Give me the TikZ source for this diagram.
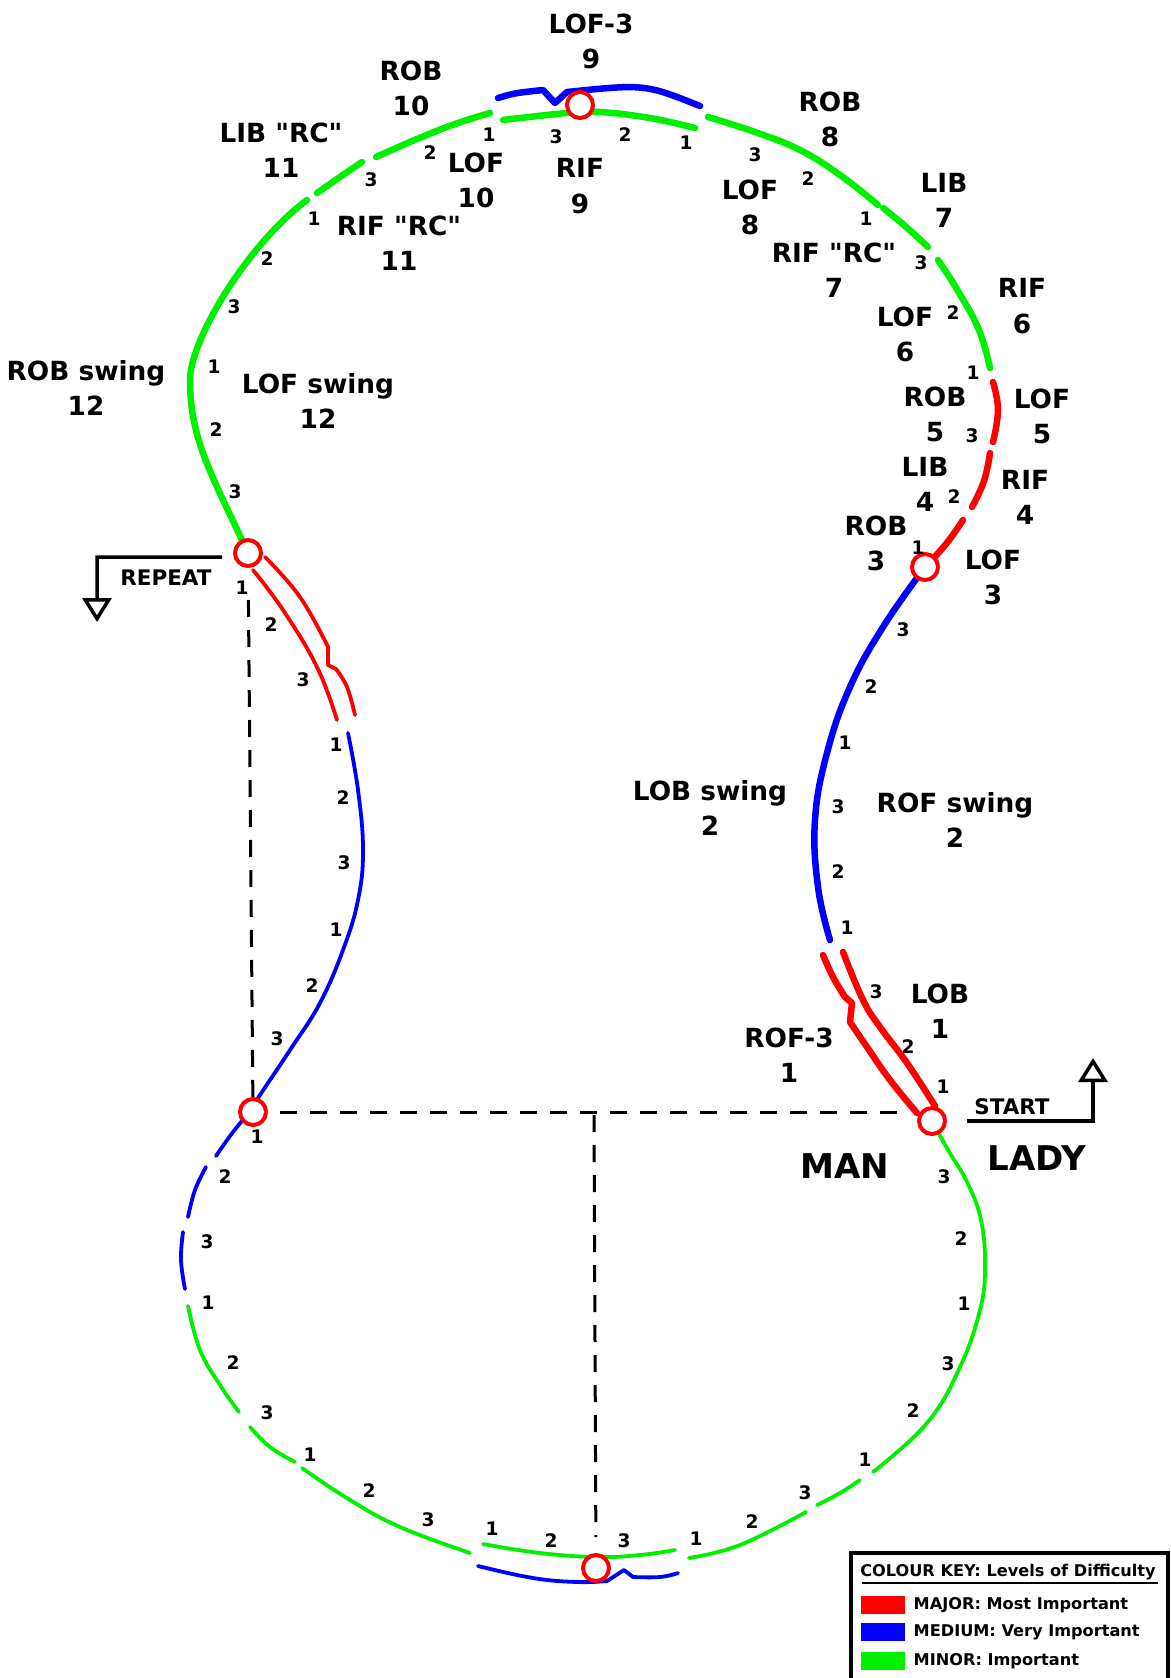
\documentclass[tikz,border=0pt]{standalone}
\usepackage{fontspec}
\setmainfont{DejaVu Sans}[Ligatures=TeXOff]
\usepackage{tikz}
\usetikzlibrary{arrows.meta}
\definecolor{major}{RGB}{255,0,0}
\definecolor{medium}{RGB}{0,0,255}
\definecolor{minor}{RGB}{0,240,0}
\tikzstyle{every plot}=[smooth, tension=0.7]
\tikzstyle{heavy}=[line width=0.65mm, line cap=round, line join=round]
\tikzstyle{fine}=[line width=0.38mm, line cap=round, line join=round]
\tikzstyle{spot}=[circle, draw=major, fill=white, line width=0.4mm, inner sep=0pt, minimum size=2.6mm]
\tikzstyle{fig}=[align=center, inner sep=0pt, font=\fontsize{7.5}{10}\selectfont\bfseries]
\tikzstyle{cnt}=[inner sep=0pt, font=\fontsize{5.3}{6}\selectfont\bfseries]
\tikzstyle{who}=[inner sep=0pt, font=\fontsize{9.7}{11}\selectfont\bfseries]
\tikzstyle{cue}=[inner sep=0pt, font=\fontsize{6.1}{7}\selectfont\bfseries]
\tikzstyle{keytext}=[inner sep=0pt, anchor=west, font=\fontsize{4.6}{5}\selectfont\bfseries]
\tikzstyle{dashline}=[line width=0.3mm, dash pattern=on 1.7mm off 1.3mm]
\tikzstyle{flow}=[line width=0.35mm, -{Triangle[open, length=2.4mm, width=2.9mm]}]

\begin{document}
\begin{tikzpicture}[x=0.1mm, y=-0.1mm]
\useasboundingbox (0,0) rectangle (1171,1678);
\clip (0,0) rectangle (1171,1678);

% first half
\draw[heavy, minor] (248,553) .. controls (212,475) and (190,440) .. (190,380) .. controls (190,340) and (247,245) .. (307,200);
\draw[heavy, minor] plot coordinates {(317,193) (340,177) (362,162)};
\draw[heavy, minor] plot coordinates {(376,157) (417,139) (455,124) (490,113)};
\draw[heavy, minor] plot coordinates {(503,120) (567,113) (600,112) (650,118) (695,128)};
\draw[heavy, medium] (498,98) .. controls (515,93) .. (543,90) -- (555,103) -- (567,92) .. controls (645,84) .. (700,106);
\draw[heavy, minor] plot coordinates {(708,117) (755,132) (800,150) (840,175) (878,205)};
\draw[heavy, minor] plot coordinates {(883,208) (905,226) (928,247)};
\draw[heavy, minor] plot coordinates {(938,260) (958,291) (979,330) (990,368)};
\draw[heavy, major] plot coordinates {(993,382) (998,410) (993,442)};
\draw[heavy, major] plot coordinates {(990,453) (984,481) (972,507)};
\draw[heavy, major] plot coordinates {(963,520) (946,544) (925,567)};
\draw[heavy, medium] plot coordinates {(925,567) (883,627) (850,687) (827,753) (815,820) (818,887) (830,940)};
\draw[heavy, major] plot coordinates {(843,952) (863,1000) (880,1027) (907,1063) (935,1106)};
\draw[heavy, major] plot coordinates {(823,955) (833,977) (845,997)} -- (852,1003) -- (850,1022) -- plot coordinates {(850,1022) (867,1047) (890,1080) (917,1113)};

% second half
\draw[fine, major] plot coordinates {(253,570) (283,610) (317,667) (337,720)};
\draw[fine, major] plot coordinates {(265,557) (300,597) (328,647)} -- (328,665) -- (336,669) -- plot coordinates {(336,669) (347,687) (355,715)};
\draw[fine, medium] plot coordinates {(348,733) (358,790) (363,850) (358,900) (343,950) (320,1003) (292,1047) (268,1083) (247,1114) (230,1136) (216,1156)};
\draw[fine, medium] plot coordinates {(206,1167) (195,1190) (188,1217)};
\draw[fine, medium] plot coordinates {(183,1232) (181,1260) (185,1289)};
\draw[fine, minor] plot coordinates {(188,1306) (200,1350) (220,1385) (239,1412)};
\draw[fine, minor] plot coordinates {(250,1427) (270,1447) (295,1462)};
\draw[fine, minor] plot coordinates {(302,1468) (350,1500) (400,1527) (470,1553)};
\draw[fine, minor] plot coordinates {(483,1544) (540,1553) (597,1557) (640,1555) (675,1550)};
\draw[fine, medium] plot coordinates {(478,1566) (533,1578) (577,1582) (607,1581)} -- (624,1570) -- (633,1577) -- plot coordinates {(633,1577) (660,1577) (678,1573)};
\draw[fine, minor] plot coordinates {(689,1558) (740,1545) (806,1512)};
\draw[fine, minor] plot coordinates {(817,1505) (840,1493) (860,1480)};
\draw[fine, minor] plot coordinates {(873,1472) (927,1423) (960,1367) (980,1310) (985,1267) (981,1220) (967,1182) (948,1150) (932,1121)};

\node[spot] (apex) at (580,105) {};
\node[spot] (switch) at (925,567) {};
\node[spot] (start) at (932,1121) {};
\node[spot] (repeat) at (248,553) {};
\node[spot] (corner) at (253,1112) {};
\node[spot] (base) at (596,1568) {};

\draw[dashline, shorten <=3.2mm] (repeat) -- (corner);
\draw[dashline, shorten <=1.2mm, shorten >=1.9mm] (corner.east) -- (corner.east -| start.west);
\coordinate (mid) at (594,1115);
\draw[dashline, shorten >=1.6mm] (mid) -- (base);

\draw[flow, shorten <=2mm] (start.east) -- (1093,1121) -- (1093,1058);
\draw[flow, shorten <=1.1mm] ([yshift=-0.4mm]repeat.west) -- (97,557) -- (97,622);
\node[cue] (go) at (1012,1107) {START};
\node[cue] (again) at (166,578) {REPEAT};
\node[who] (man) at (845,1166) {MAN};
\node[who] (lady) at (1037,1158) {LADY};

\node[fig] (f9a) at (591,41) {LOF-3\\9};
\node[fig] (f10a) at (411,88) {ROB\\10};
\node[fig] (f11a) at (281,150) {LIB "RC"\\11};
\node[fig] (f10b) at (476,180) {LOF\\10};
\node[fig] (f9b) at (580,186) {RIF\\9};
\node[fig] (f11b) at (399,243) {RIF "RC"\\11};
\node[fig] (f8a) at (830,119) {ROB\\8};
\node[fig] (f8b) at (750,207) {LOF\\8};
\node[fig] (f7a) at (944,200) {LIB\\7};
\node[fig] (f7b) at (834,270) {RIF "RC"\\7};
\node[fig] (f6a) at (1022,306) {RIF\\6};
\node[fig] (f6b) at (905,334) {LOF\\6};
\node[fig] (f5a) at (935,414) {ROB\\5};
\node[fig] (f5b) at (1042,416) {LOF\\5};
\node[fig] (f4a) at (925,484) {LIB\\4};
\node[fig] (f4b) at (1025,497) {RIF\\4};
\node[fig] (f3a) at (876,543) {ROB\\3};
\node[fig] (f3b) at (993,577) {LOF\\3};
\node[fig] (f12a) at (86,388) {ROB swing\\12};
\node[fig] (f12b) at (318,401) {LOF swing\\12};
\node[fig] (f2a) at (710,808) {LOB swing\\2};
\node[fig] (f2b) at (955,820) {ROF swing\\2};
\node[fig] (f1a) at (940,1011) {LOB\\1};
\node[fig] (f1b) at (789,1055) {ROF-3\\1};

\foreach \x/\y/\n [count=\i] in {235/492/3, 216/430/2, 214/367/1, 234/307/3, 267/259/2, 314/219/1,
    371/180/3, 430/153/2, 489/135/1, 556/137/3, 625/135/2, 686/143/1, 755/155/3, 808/179/2,
    866/219/1, 921/263/3, 953/313/2, 973/373/1, 972/436/3, 954/497/2, 918/548/1,
    903/630/3, 871/687/2, 845/743/1, 838/807/3, 838/872/2, 847/928/1,
    876/992/3, 908/1047/2, 943/1087/1,
    944/1177/3, 961/1239/2, 964/1304/1, 948/1364/3, 913/1411/2, 865/1460/1,
    805/1493/3, 752/1522/2, 696/1539/1, 624/1541/3, 551/1541/2, 492/1529/1,
    428/1520/3, 369/1491/2, 310/1455/1, 267/1413/3, 233/1363/2, 208/1303/1,
    207/1242/3, 225/1177/2, 257/1137/1, 277/1039/3, 312/986/2, 336/930/1,
    344/863/3, 343/798/2, 336/745/1, 303/680/3, 271/625/2, 242/588/1}
  \node[cnt] (c\i) at (\x,\y) {\n};

% colour key
\draw[line width=0.45mm, fill=white] (851,1553) rectangle (1168,1700);
\node[keytext, anchor=center] (keyhead) at (1008,1572) {COLOUR KEY: Levels of Difficulty};
\draw[line width=0.2mm] (862,1583) -- (1158,1583);
\fill[major] (861,1596) rectangle (905,1614);
\fill[medium] (861,1623) rectangle (905,1641);
\fill[minor] (861,1652) rectangle (905,1670);
\node[keytext] (k1) at (913,1605) {MAJOR: Most Important};
\node[keytext] (k2) at (913,1632) {MEDIUM: Very Important};
\node[keytext] (k3) at (913,1661) {MINOR: Important};
\end{tikzpicture}
\end{document}
